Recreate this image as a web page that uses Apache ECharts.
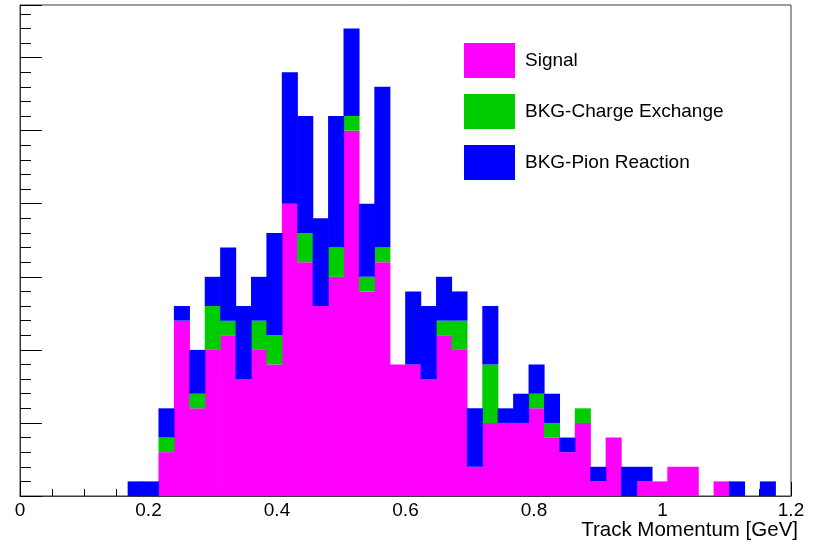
<!DOCTYPE html>
<html>
<head>
<meta charset="utf-8">
<script src="https://cdn.jsdelivr.net/npm/echarts@6/dist/echarts.min.js"></script>
<style>
html,body{margin:0;padding:0;background:#fff;}
#chart{width:821px;height:542px;}
</style>
</head>
<body>
<div id="chart"></div>
<script>
// 50 bins of width 0.024 GeV, labelled by lower edge
const binLabels = ['0.000','0.024','0.048','0.072','0.096','0.120','0.144','0.168','0.192','0.216',
  '0.240','0.264','0.288','0.312','0.336','0.360','0.384','0.408','0.432','0.456',
  '0.480','0.504','0.528','0.552','0.576','0.600','0.624','0.648','0.672','0.696',
  '0.720','0.744','0.768','0.792','0.816','0.840','0.864','0.888','0.912','0.936',
  '0.960','0.984','1.008','1.032','1.056','1.080','1.104','1.128','1.152','1.176'];
const signal   = [0,0,0,0,0,0,0,0,0,3, 12,6,10,11,8,10,9,20,16,13, 15,25,14,16,9,9,8,11,10,2, 5,5,5,6,4,3,5,1,4,0, 1,1,2,2,0,1,0,0,0,0];
const chargeEx = [0,0,0,0,0,0,0,0,0,1, 0,1,3,1,0,2,2,0,2,0, 2,1,1,1,0,0,0,1,2,0, 4,0,0,1,1,0,1,0,0,0, 0,0,0,0,0,0,0,0,0,0];
const pionReac = [0,0,0,0,0,0,0,1,1,2, 1,3,2,5,5,3,7,9,8,6, 9,6,5,11,0,5,5,3,2,4, 4,1,2,2,2,1,0,1,0,2, 1,0,0,0,0,0,1,0,1,0];
const seriesNames = ['Signal','BKG-Charge Exchange','BKG-Pion Reaction'];
const seriesColors = ['#ff00ff','#00cc00','#0000ff'];
const xTickMin = 0, xTickMax = 1.2, xTickStep = 0.2;
const yMax = 33.6;
const xTitle = 'Track Momentum [GeV]';

const font = 'Liberation Sans, Arial, Helvetica, sans-serif';
const chart = echarts.init(document.getElementById('chart'));
const grid = {left:20, right:30, top:5, bottom:46, show:true, borderColor:'#3a3a3a', borderWidth:1, backgroundColor:'transparent'};
const values = [signal, chargeEx, pionReac];
chart.setOption({
  animation:false,
  grid: grid,
  legend: {
    orient:'vertical', left:464, top:43, padding:0, itemGap:16,
    itemWidth:51, itemHeight:35, icon:'rect',
    textStyle:{fontFamily:font, fontSize:19, color:'#000', padding:[0,0,0,5]},
    data: seriesNames
  },
  xAxis: [
    {type:'category', data:binLabels, boundaryGap:true, show:false},
    {type:'value', min:xTickMin, max:xTickMax, interval:xTickStep, position:'bottom',
     axisLine:{show:true, onZero:false, lineStyle:{color:'#3a3a3a', width:1}},
     axisTick:{show:true, inside:true, length:14, lineStyle:{color:'#000'}},
     minorTick:{show:true, splitNumber:4, length:7, lineStyle:{color:'#000'}},
     splitLine:{show:false},
     axisLabel:{fontFamily:font, fontSize:19, color:'#000', margin:5,
       formatter:function(v){return String(Math.round(v*10)/10);}},
     name:xTitle, nameLocation:'end', nameGap:7,
     nameTextStyle:{fontFamily:font, fontSize:20.5, color:'#000', align:'right', verticalAlign:'top', padding:[24,0,0,0]}
    }
  ],
  yAxis: [
    {type:'value', min:0, max:yMax, interval:1, position:'left',
     axisLine:{show:true, lineStyle:{color:'#3a3a3a'}},
     axisTick:{show:true, inside:true, length:11, lineStyle:{color:'#000'}},
     axisLabel:{show:false}, splitLine:{show:false}},
    {type:'value', min:0, max:yMax, interval:5, position:'left',
     axisLine:{show:false},
     axisTick:{show:true, inside:true, length:22, lineStyle:{color:'#000'}},
     axisLabel:{show:false}, splitLine:{show:false}}
  ],
  series: seriesNames.map(function(n,i){
    return {name:n, type:'bar', stack:'h', xAxisIndex:0, yAxisIndex:0, z:2,
      data: values[i].map(function(v){return v === 0 ? '-' : v;}),
      barWidth:'104%', barGap:'0%',
      itemStyle:{color:seriesColors[i]}, silent:true};
  })
});
</script>
</body>
</html>
